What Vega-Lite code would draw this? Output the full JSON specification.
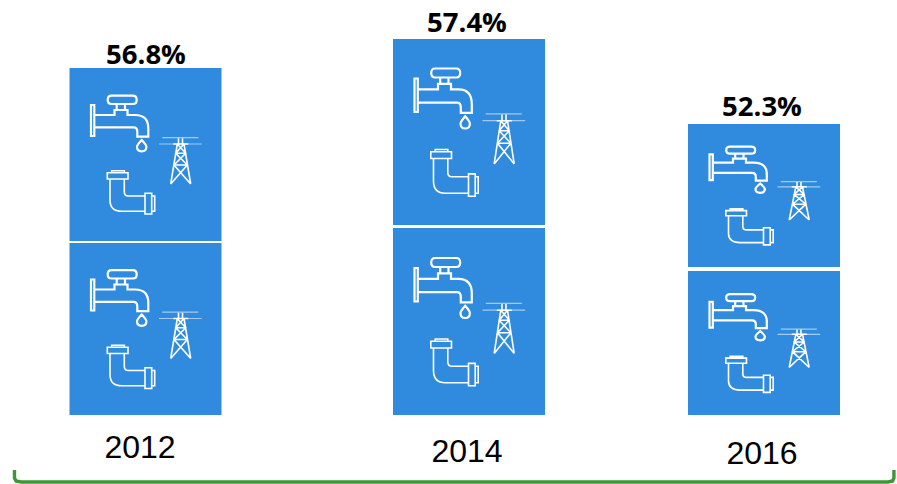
{
"$schema":"https://vega.github.io/schema/vega-lite/v6.json",
"width":897,"height":484,
"autosize":{"type":"fit","contains":"padding"},
"padding":0,
"background":"white",
"config":{"view":{"stroke":null}},
"datasets":{
"blocks":[
{"year":2012,"share":56.8,"label":"56.8%","block":"lower","low":0,"high":172,"mid":86},
{"year":2012,"share":56.8,"label":"56.8%","block":"upper","low":174,"high":347,"mid":260.5},
{"year":2014,"share":57.4,"label":"57.4%","block":"lower","low":0,"high":187,"mid":93.5},
{"year":2014,"share":57.4,"label":"57.4%","block":"upper","low":190,"high":376,"mid":283},
{"year":2016,"share":52.3,"label":"52.3%","block":"lower","low":0,"high":144,"mid":72},
{"year":2016,"share":52.3,"label":"52.3%","block":"upper","low":148,"high":291,"mid":219.5}
],
"bracket":[
{"order":1,"year":2011.19,"level":-55},
{"order":2,"year":2011.19,"level":-63},
{"order":3,"year":2011.2,"level":-66},
{"order":4,"year":2011.23,"level":-67},
{"order":5,"year":2016.84,"level":-67},
{"order":6,"year":2016.872,"level":-66},
{"order":7,"year":2016.881,"level":-63},
{"order":8,"year":2016.881,"level":-55}
]
},
"data":{"name":"blocks"},
"layer":[
{"layer":[
{"mark":{"type":"bar","width":152,"color":"#308BDF"},
 "encoding":{
  "x":{"field":"year","type":"quantitative","axis":null,"scale":{"domain":[2012,2014,2016],"range":[145.5,469,764],"zero":false,"nice":false,"padding":0}},
  "y":{"field":"low","type":"quantitative","axis":null,"scale":{"domain":[-69,415],"range":[484,0],"zero":false,"nice":false}},
  "y2":{"field":"high"}}},
{"mark":{"type":"point","filled":false,"stroke":"#ffffff","strokeWidth":2.2,"size":4,"opacity":1},
 "encoding":{
  "x":{"field":"year","type":"quantitative"},
  "y":{"field":"mid","type":"quantitative"},
  "shape":{"field":"year","type":"nominal","legend":null,"scale":{"domain":[2012,2014,2016],"range":[
"M-54.5 -49.5L-51.2 -49.5L-51.2 -18.5L-54.5 -18.5ZM-33.8 -58.8L-12.8 -58.8Q-8.8 -58.8 -8.8 -54.6Q-8.8 -50.5 -12.8 -50.5L-33.8 -50.5Q-37.8 -50.5 -37.8 -54.6Q-37.8 -58.8 -33.8 -58.8ZM-28.8 -50.5L-28.8 -44.5M-20.5 -50.5L-20.5 -44.5M-51.2 -39.5L-31 -39.5L-31 -44.5L-18 -44.5L-18 -39.5L-10.5 -39.5Q2.8 -39.5 2.8 -26L2.8 -17.8L-8.2 -17.8L-8.2 -22.8Q-8.2 -27.2 -12 -27.2L-51.2 -27.2M-3.8 -14.5Q0.9 -9.5 0.9 -7.8Q0.9 -3.2 -3.8 -3.2Q-8.5 -3.2 -8.5 -7.8Q-8.5 -9.5 -3.8 -14.5Z",
"M-54.5 -53.5L-51.2 -53.5L-51.2 -20L-54.5 -20ZM-33.8 -63.5L-12.8 -63.5Q-8.8 -63.5 -8.8 -59Q-8.8 -54.5 -12.8 -54.5L-33.8 -54.5Q-37.8 -54.5 -37.8 -59Q-37.8 -63.5 -33.8 -63.5ZM-28.8 -54.5L-28.8 -48.1M-20.5 -54.5L-20.5 -48.1M-51.2 -42.7L-31 -42.7L-31 -48.1L-18 -48.1L-18 -42.7L-10.5 -42.7Q2.8 -42.7 2.8 -28.1L2.8 -19.2L-8.2 -19.2L-8.2 -24.6Q-8.2 -29.4 -12 -29.4L-51.2 -29.4M-3.8 -15.7Q0.9 -10.3 0.9 -8.4Q0.9 -3.5 -3.8 -3.5Q-8.5 -3.5 -8.5 -8.4Q-8.5 -10.3 -3.8 -15.7Z",
"M-54.5 -41.1L-51.2 -41.1L-51.2 -15.4L-54.5 -15.4ZM-33.8 -48.8L-12.8 -48.8Q-8.8 -48.8 -8.8 -45.3Q-8.8 -41.9 -12.8 -41.9L-33.8 -41.9Q-37.8 -41.9 -37.8 -45.3Q-37.8 -48.8 -33.8 -48.8ZM-28.8 -41.9L-28.8 -36.9M-20.5 -41.9L-20.5 -36.9M-51.2 -32.8L-31 -32.8L-31 -36.9L-18 -36.9L-18 -32.8L-10.5 -32.8Q2.8 -32.8 2.8 -21.6L2.8 -14.8L-8.2 -14.8L-8.2 -18.9Q-8.2 -22.6 -12 -22.6L-51.2 -22.6M-3.8 -12Q0.9 -7.9 0.9 -6.5Q0.9 -2.7 -3.8 -2.7Q-8.5 -2.7 -8.5 -6.5Q-8.5 -7.9 -3.8 -12Z"
]}}}},
{"mark":{"type":"point","filled":false,"stroke":"#ffffff","strokeWidth":1.6,"size":4,"opacity":1},
 "encoding":{
  "x":{"field":"year","type":"quantitative"},
  "y":{"field":"mid","type":"quantitative"},
  "shape":{"field":"year","type":"nominal","legend":null,"scale":{"domain":[2012,2014,2016],"range":[
"M-33.8 18.2L-33.8 16.2L-21.2 16.2L-21.2 18.2M-38.2 18.2L-17.5 18.2L-17.5 24.5L-38.2 24.5ZM-35.5 24.5L-35.5 45.5Q-35.5 56.8 -23.8 56.8L-0.5 56.8M-21.2 24.5L-21.2 37.2Q-21.2 41.5 -17.2 41.5L-0.5 41.5M-0.5 38.8L6.2 38.8L6.2 59.5L-0.5 59.5ZM6.2 41.5L9.2 41.5L9.2 56.8L6.2 56.8M31.8 -10.5L25.2 29.5M38.5 -10.5L45.2 29.5M27.8 -10.5L42.8 -10.5M33 -16.2L33 -10.5M37 -16.2L37 -10.5M31.8 -10.5L40.2 -1.2L28.5 10.5L45.2 29.5M38.5 -10.5L30.2 -1.2L41.8 10.5L25.2 29.5M30.2 -1.2L40.2 -1.2M28.5 10.5L41.8 10.5",
"M-33.8 19.7L-33.8 17.5L-21.2 17.5L-21.2 19.7M-38.2 19.7L-17.5 19.7L-17.5 26.5L-38.2 26.5ZM-35.5 26.5L-35.5 49.1Q-35.5 61.3 -23.8 61.3L-0.5 61.3M-21.2 26.5L-21.2 40.2Q-21.2 44.8 -17.2 44.8L-0.5 44.8M-0.5 41.9L6.2 41.9L6.2 64.3L-0.5 64.3ZM6.2 44.8L9.2 44.8L9.2 61.3L6.2 61.3M31.8 -11.3L25.2 31.9M38.5 -11.3L45.2 31.9M27.8 -11.3L42.8 -11.3M33 -17.5L33 -11.3M37 -17.5L37 -11.3M31.8 -11.3L40.2 -1.3L28.5 11.3L45.2 31.9M38.5 -11.3L30.2 -1.3L41.8 11.3L25.2 31.9M30.2 -1.3L40.2 -1.3M28.5 11.3L41.8 11.3",
"M-33.8 15.1L-33.8 13.4L-21.2 13.4L-21.2 15.1M-38.2 15.1L-17.5 15.1L-17.5 20.3L-38.2 20.3ZM-35.5 20.3L-35.5 37.8Q-35.5 47.1 -23.8 47.1L-0.5 47.1M-21.2 20.3L-21.2 30.9Q-21.2 34.4 -17.2 34.4L-0.5 34.4M-0.5 32.2L6.2 32.2L6.2 49.4L-0.5 49.4ZM6.2 34.4L9.2 34.4L9.2 47.1L6.2 47.1M31.8 -8.7L25.2 24.5M38.5 -8.7L45.2 24.5M27.8 -8.7L42.8 -8.7M33 -13.4L33 -8.7M37 -13.4L37 -8.7M31.8 -8.7L40.2 -1L28.5 8.7L45.2 24.5M38.5 -8.7L30.2 -1L41.8 8.7L25.2 24.5M30.2 -1L40.2 -1M28.5 8.7L41.8 8.7"
]}}}},
{"mark":{"type":"point","filled":false,"stroke":"#ffffff","strokeWidth":1.2,"size":4,"opacity":0.55},
 "encoding":{
  "x":{"field":"year","type":"quantitative"},
  "y":{"field":"mid","type":"quantitative"},
  "shape":{"field":"year","type":"nominal","legend":null,"scale":{"domain":[2012,2014,2016],"range":[
"M16.8 -16.8L52.8 -16.8M13.5 -10.5L56.2 -10.5",
"M16.8 -18.1L52.8 -18.1M13.5 -11.3L56.2 -11.3",
"M16.8 -13.9L52.8 -13.9M13.5 -8.7L56.2 -8.7"
]}}}},
{"data":{"name":"bracket"},
 "mark":{"type":"line","stroke":"#3F9637","strokeWidth":3.4,"interpolate":"linear"},
 "encoding":{
  "x":{"field":"year","type":"quantitative"},
  "y":{"field":"level","type":"quantitative"},
  "order":{"field":"order","type":"ordinal"}}}
],
"resolve":{"scale":{"shape":"independent"}}},
{"transform":[{"filter":"datum.block === 'upper'"}],
 "mark":{"type":"text","fontSize":27.5,"fontWeight":"bold","font":"Open Sans","color":"#000000","baseline":"alphabetic","align":"center"},
 "encoding":{
  "x":{"field":"year","type":"quantitative","axis":null,"scale":{"domain":[2012,2014,2016],"range":[146,467,762],"zero":false,"nice":false}},
  "y":{"field":"share","type":"quantitative","axis":null,"scale":{"domain":[52.3,56.8,57.4],"range":[116,64,32],"zero":false,"nice":false}},
  "text":{"field":"label"}}},
{"transform":[{"filter":"datum.block === 'upper'"}],
 "mark":{"type":"text","fontSize":32,"font":"Liberation Sans","color":"#000000","baseline":"alphabetic","align":"center"},
 "encoding":{
  "x":{"field":"year","type":"quantitative","axis":null,"scale":{"domain":[2012,2014,2016],"range":[140,467,762],"zero":false,"nice":false}},
  "y":{"field":"year","type":"quantitative","axis":null,"scale":{"domain":[2012,2014,2016],"range":[458,462,464],"zero":false,"nice":false}},
  "text":{"field":"year","type":"nominal"}}}
],
"resolve":{"scale":{"x":"independent","y":"independent"}}
}
